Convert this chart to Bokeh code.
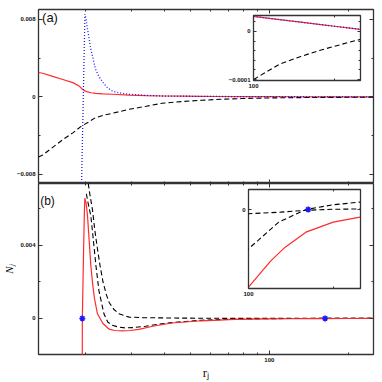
import numpy as np
from bokeh.plotting import figure
from bokeh.models import (Range1d, FixedTicker, LinearAxis, LogAxis, Label, Column,
                          BasicTickFormatter)
from bokeh.embed import file_html
from bokeh.resources import INLINE

# ---------------- data ----------------
X_START, X_END = 13.25, 249.0
x_major = [100]
x_minor = [20, 30, 40, 50, 60, 70, 80, 90, 200]
x_labels = {100: "100"}

# panel (a)
a_y_ticks = [-0.008, 0.0, 0.008]
a_y_minor = [-0.004, 0.004]
a_y_labels = {-0.008: "\u22120.008", 0.0: "0", 0.008: "0.008"}

a_red_r = [13.25, 13.75, 15.0, 16.4, 17.9, 18.9, 19.45, 19.9, 20.35, 21.0, 21.8, 23.3, 25.3,
           29.3, 34, 39.1, 47, 55, 65, 78, 100, 125, 150, 175, 200, 225, 249]
a_red = [0.00253, 0.00245, 0.00212, 0.0018, 0.00148, 0.00114, 0.0008, 0.00063, 0.00052,
         0.00044, 0.00038, 0.00032, 0.00028, 0.0002, 0.00014, 0.0001, 0.00008, 0.000065,
         0.000052, 0.00004, 0.000031, 0.0000245, 0.0000191, 0.0000146, 0.0000107,
         0.0000073, 0.0000043]

a_blue_r = [19.3, 19.9, 20.1, 20.35, 20.65, 20.95, 21.4, 21.8, 22.5, 23.3, 24.2, 25.3, 27.0,
            29.3, 34, 39.1, 47, 55, 65, 78, 100, 125, 150, 175, 200, 225, 249]
a_blue = [-0.0095, 0.00854, 0.0080, 0.0070, 0.0060, 0.0049, 0.0039, 0.0029, 0.0021, 0.0015,
          0.00096, 0.00062, 0.00042, 0.00028, 0.00016, 0.0001, 0.00008, 0.000065, 0.000052,
          0.00004, 0.000031, 0.0000245, 0.0000191, 0.0000146, 0.0000107, 0.0000073, 0.0000043]

a_black_r = [13.25, 13.75, 15.0, 16.4, 17.9, 19.3, 20.5, 21.8, 23.3, 25.3, 29.3, 34, 39.1,
             47, 55.3, 65, 78.4, 100, 125, 150, 175, 200, 225, 249]
a_black = [-0.0062, -0.0060, -0.0052, -0.0044, -0.0037, -0.0030, -0.0026, -0.00214, -0.0019,
           -0.00168, -0.00127, -0.00096, -0.00065, -0.00046, -0.00034, -0.00024, -0.00016,
           -0.0001, -0.000068, -0.000052, -0.00004, -0.000031, -0.000023, -0.000017]

# panel (b)
b_y_ticks = [0.0, 0.004]
b_y_minor = [-0.002, 0.002, 0.006]
b_y_labels = {0.0: "0", 0.004: "0.004"}

b_red_r = [19.44, 19.45, 19.65, 19.8, 19.88, 20.1, 20.35, 20.65, 20.95, 21.27, 21.6, 22.2,
           23.3, 24.6, 25.8, 27.6, 29.5, 31.9, 36, 42.6, 55.3, 74, 100, 120, 135, 160, 200, 249]
b_red = [-0.003, 0.0, 0.0035, 0.0058, 0.00656, 0.0063, 0.0056, 0.00425, 0.0029, 0.00194,
         0.00114, 0.00025, -0.00028, -0.00059, -0.00066, -0.00068, -0.00066, -0.0006,
         -0.00043, -0.00025, -0.00013, -0.00005, -0.0000295, -0.0000195, -0.0000143,
         -0.0000086, -0.0000048, -0.0000029]

b_dash1_r = [20.15, 20.45, 20.95, 21.27, 21.9, 22.5, 23.5, 24.3, 25.3, 26.8, 28.4, 30.5, 33.8,
             38, 42.6, 55.3, 74, 100, 108, 128, 160, 200, 249]
b_dash1 = [0.0068, 0.0063, 0.0056, 0.0047, 0.0029, 0.0015, 0.00025, -0.0002, -0.00037,
           -0.00048, -0.00052, -0.0005, -0.00043, -0.00032, -0.00023, -0.0001, -0.00004,
           -0.0000149, -0.0000118, -0.0000048, 0.0, 0.0000018, 0.0000028]

b_dash2_r = [20.3, 20.65, 21.27, 21.7, 22.2, 22.7, 23.3, 24.0, 24.6, 25.6, 26.8, 29.3, 33,
             42.6, 55.3, 74, 100, 130, 160, 200, 249]
b_dash2 = [0.0078, 0.0070, 0.0059, 0.0048, 0.0038, 0.0029, 0.0020, 0.0013, 0.00087, 0.0005,
           0.00025, 0.00007, 0.00004, 0.00002, 0.000008, 0.000001, -0.0000016, -0.000001,
           -0.0000003, 0.0000001, 0.0000002]

b_mark_r = [19.45, 163]
b_mark = [0.0, 0.0]

x_title = "r\u2c7c"
y_title = "N\u2c7c"

# insets
ins_x_start, ins_x_end = 100, 250
ins_x_major = [100]
ins_x_minor = [200]
ia_y_ticks = [-0.0001, 0.0]
ia_y_minor = [-0.00008, -0.00006, -0.00004, -0.00002, 0.00002]
ia_y_labels = {-0.0001: "\u22120.0001", 0.0: "0"}
ib_y_ticks = [0.0]
ib_y_minor = []
ib_y_labels = {0.0: "0"}

# ---------------- styling helpers ----------------
DARK = "#333333"
RED = "#ff2a2a"
BLUE = "#1a1aff"


def style_axis(ax, labels, overrides=None, major_in=4, minor_in=2):
    ax.axis_line_color = None
    ax.major_tick_in = major_in
    ax.major_tick_out = 0
    ax.minor_tick_in = minor_in
    ax.minor_tick_out = 0
    ax.major_tick_line_color = DARK
    ax.minor_tick_line_color = DARK
    ax.major_label_text_font = "Liberation Sans"
    ax.major_label_text_font_style = "bold"
    ax.major_label_text_color = "#111111"
    ax.formatter = BasicTickFormatter()
    if labels:
        ax.major_label_text_font_size = "6px"
        ax.major_label_standoff = 3
        if overrides:
            ax.major_label_overrides = overrides
    else:
        ax.major_label_text_font_size = "0px"
        ax.major_label_standoff = 0
        ax.major_label_text_alpha = 0


def make_panel(xr, yr, w, h, borders, xt, xm, yt, ym, xlab, ylab, transparent=False,
               styles=None, major_in=4, minor_in=2):
    kw = {}
    if styles:
        kw["styles"] = styles
    p = figure(x_axis_type="log", x_range=Range1d(*xr), y_range=Range1d(*yr),
               width=w, height=h, output_backend="svg", toolbar_location=None,
               min_border_left=borders[0], min_border_right=borders[1],
               min_border_top=borders[2], min_border_bottom=borders[3], **kw)
    p.add_layout(LogAxis(), "above")
    p.add_layout(LinearAxis(), "right")
    p.grid.visible = False
    p.outline_line_color = DARK
    p.outline_line_width = 1.3
    p.background_fill_color = "white"
    if transparent:
        p.border_fill_alpha = 0
    else:
        p.border_fill_color = "white"
    for ax in p.below + p.above:
        ax.ticker = FixedTicker(ticks=xt, minor_ticks=xm)
    for ax in p.left + p.right:
        ax.ticker = FixedTicker(ticks=yt, minor_ticks=ym)
    for ax in p.below:
        style_axis(ax, xlab is not None, xlab, major_in, minor_in)
    for ax in p.above:
        style_axis(ax, False, None, major_in, minor_in)
    for ax in p.left:
        style_axis(ax, ylab is not None, ylab, major_in, minor_in)
    for ax in p.right:
        style_axis(ax, False, None, major_in, minor_in)
    return p


def draw_a(p):
    p.line(a_red_r, a_red, line_color=RED, line_width=1.2)
    p.line(a_black_r, a_black, line_color="black", line_width=1.1, line_dash="5 3")
    p.line(a_blue_r, a_blue, line_color=BLUE, line_width=1.3, line_dash="1 2")


def draw_b(p, msize):
    p.line(b_dash2_r, b_dash2, line_color="black", line_width=1.1, line_dash="5 3")
    p.line(b_dash1_r, b_dash1, line_color="black", line_width=1.1, line_dash="5 3")
    p.line(b_red_r, b_red, line_color=RED, line_width=1.2)
    p.scatter(b_mark_r, b_mark, marker="asterisk", size=msize, line_color=BLUE, line_width=1.5)
    p.scatter(b_mark_r, b_mark, marker="circle", size=msize * 0.35, fill_color=BLUE,
              line_color=BLUE)


# ---------------- main panels ----------------
top = make_panel((X_START, X_END), (-0.00893, 0.00903), 376, 183, (36, 3, 9, 0),
                 x_major, x_minor, a_y_ticks, a_y_minor, None, a_y_labels)
draw_a(top)
top.add_layout(Label(x=11.5, y=166, x_units="screen", y_units="screen", text="(a)",
                     text_font="Liberation Sans", text_font_size="13px",
                     text_align="center", text_baseline="middle", text_color="#111111"))

bot = make_panel((X_START, X_END), (-0.00197, 0.00736), 376, 199, (36, 3, 0, 24),
                 x_major, x_minor, b_y_ticks, b_y_minor, x_labels, b_y_labels)
draw_b(bot, 6)
bot.add_layout(Label(x=9, y=154, x_units="screen", y_units="screen", text="(b)",
                     text_font="Liberation Sans", text_font_size="12px",
                     text_align="center", text_baseline="middle", text_color="#111111"))
xa = bot.below[0]
xa.axis_label = x_title
xa.axis_label_text_font = "Liberation Serif"
xa.axis_label_text_font_size = "13px"
xa.axis_label_text_font_style = "normal"
xa.axis_label_standoff = 0
xa.axis_label_text_color = "#111111"
ya = bot.left[0]
ya.axis_label = y_title
ya.axis_label_text_font = "Liberation Serif"
ya.axis_label_text_font_size = "11px"
ya.axis_label_text_font_style = "italic"
ya.axis_label_standoff = 2
ya.axis_label_text_color = "#111111"

# ---------------- insets ----------------
ins_a = make_panel((ins_x_start, ins_x_end), (-0.000102, 0.000033), 148, 78, (30, 1, 1, 12),
                   ins_x_major, ins_x_minor, ia_y_ticks, ia_y_minor, x_labels, ia_y_labels,
                   transparent=True,
                   styles={"position": "absolute", "left": "215px", "top": "14px"},
                   major_in=3, minor_in=2)
draw_a(ins_a)

ins_b = make_panel((ins_x_start, ins_x_end), (-0.0000300, 0.0000076), 153, 112, (12, 1, 1, 12),
                   ins_x_major, ins_x_minor, ib_y_ticks, ib_y_minor, x_labels, ib_y_labels,
                   transparent=True,
                   styles={"position": "absolute", "left": "210px", "top": "188px"},
                   major_in=3, minor_in=2)
draw_b(ins_b, 6)

layout = Column(children=[top, bot, ins_a, ins_b], spacing=0)

open("out.html", "w").write(file_html(layout, INLINE))
